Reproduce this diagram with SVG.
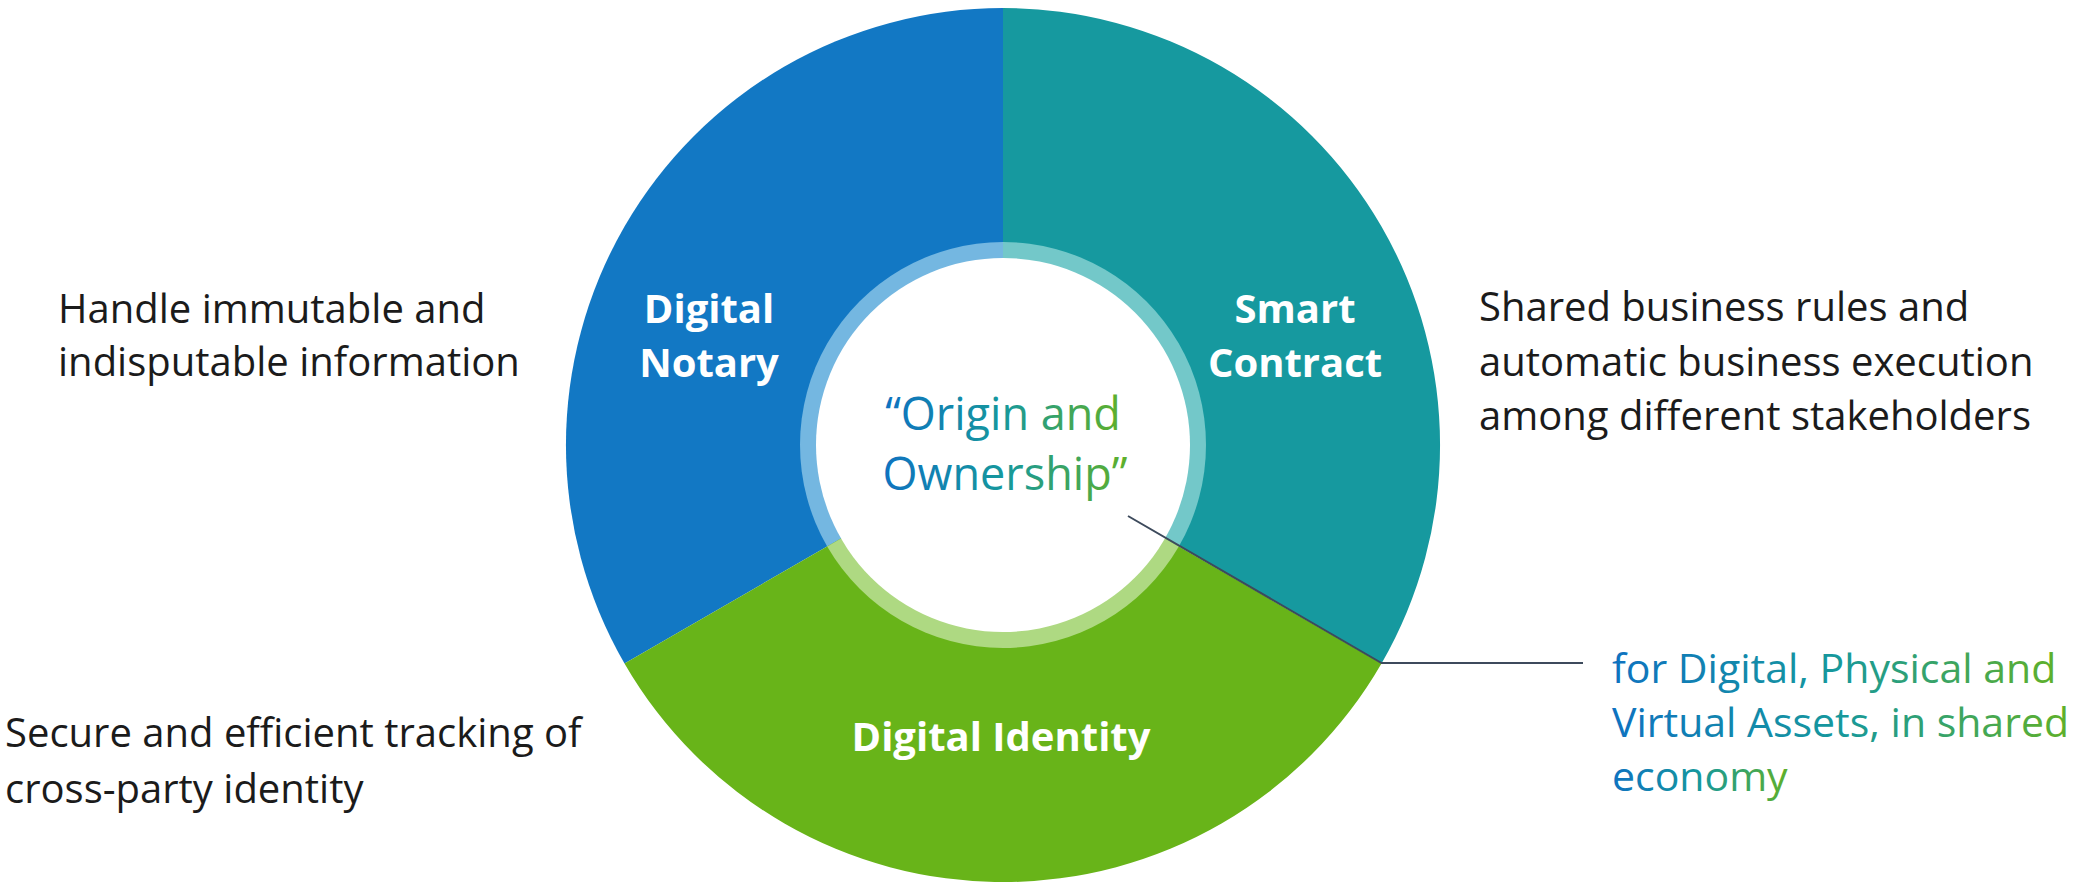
<svg xmlns="http://www.w3.org/2000/svg" width="2074" height="882" viewBox="0 0 2074 882">
<defs>
<linearGradient id="tg" x1="0" y1="0" x2="1" y2="0">
<stop offset="0" stop-color="#0f72c0"/>
<stop offset="0.5" stop-color="#16989c"/>
<stop offset="1" stop-color="#5fb02a"/>
</linearGradient>
<style>
.body{font-family:"Open Sans","Liberation Sans",sans-serif;font-size:40px;fill:#1b1b1b}
.lbl{font-family:"Open Sans","Liberation Sans",sans-serif;font-size:40px;font-weight:bold;fill:#ffffff;text-anchor:middle}
.grad{font-family:"Open Sans","Liberation Sans",sans-serif;fill:url(#tg)}
.leader{fill:none;stroke:#3d4a5c;stroke-width:2}
</style>
</defs>
<rect width="2074" height="882" fill="#ffffff"/>
<g id="digital-notary">
<path d="M1003,445 L1003,8 A437,437 0 0 0 624.5,663.5 Z" fill="#1278c4"/>
<path d="M1003,445 L1003,242 A203,203 0 0 0 827.2,546.5 Z" fill="#74b7e1"/>
<text class="lbl" x="709" y="323">Digital</text>
<text class="lbl" x="709" y="377">Notary</text>
</g>
<g id="smart-contract">
<path d="M1003,445 L1003,8 A437,437 0 0 1 1381.5,663.5 Z" fill="#16999f"/>
<path d="M1003,445 L1003,242 A203,203 0 0 1 1178.8,546.5 Z" fill="#73c8c9"/>
<text class="lbl" x="1295" y="323">Smart</text>
<text class="lbl" x="1295" y="377">Contract</text>
</g>
<g id="digital-identity">
<path d="M1003,445 L1381.5,663.5 A437,437 0 0 1 624.5,663.5 Z" fill="#68b419"/>
<path d="M1003,445 L1178.8,546.5 A203,203 0 0 1 827.2,546.5 Z" fill="#aed982"/>
<text class="lbl" x="1001" y="751">Digital Identity</text>
</g>
<g id="center">
<circle cx="1003" cy="445" r="187" fill="#ffffff"/>
<text class="grad" x="1003" y="430" font-size="45" text-anchor="middle">“Origin and</text>
<text class="grad" x="1005" y="490" font-size="45" text-anchor="middle">Ownership”</text>
</g>
<g id="connectors">
<polyline class="leader" points="1128,516 1381.5,663 1583,663"/>
</g>
<g id="desc-notary">
<text class="body" x="58" y="323">Handle immutable and</text>
<text class="body" x="58" y="376">indisputable information</text>
</g>
<g id="desc-contract">
<text class="body" x="1479" y="321">Shared business rules and</text>
<text class="body" x="1479" y="376">automatic business execution</text>
<text class="body" x="1479" y="430">among different stakeholders</text>
</g>
<g id="desc-identity">
<text class="body" x="5" y="747">Secure and efficient tracking of</text>
<text class="body" x="5" y="803">cross-party identity</text>
</g>
<g id="desc-assets">
<text class="grad" x="1612" y="683" font-size="41">for Digital, Physical and</text>
<text class="grad" x="1612" y="737" font-size="41">Virtual Assets, in shared</text>
<text class="grad" x="1612" y="791" font-size="41">economy</text>
</g>
</svg>
